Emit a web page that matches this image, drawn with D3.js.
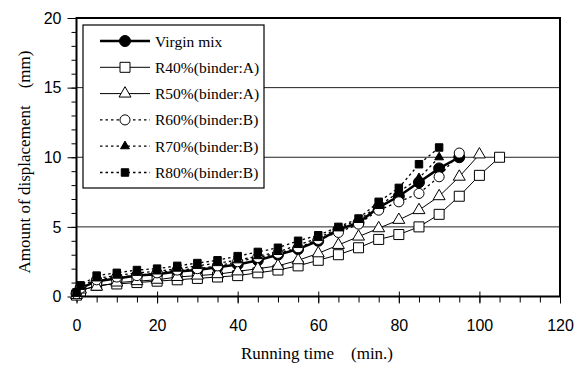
<!DOCTYPE html>
<html>
<head>
<meta charset="utf-8">
<script src="https://cdn.jsdelivr.net/npm/d3@7"></script>
<style>
  body { margin: 0; background: #fff; }
  svg { display: block; }
</style>
</head>
<body>
<svg width="581" height="365"></svg>
<script>
var svg = d3.select('svg');

// running time (min.)
var timeVirgin = [0, 1, 5, 10, 15, 20, 25, 30, 35, 40, 45, 50, 55, 60, 65, 70, 75, 80, 85, 90, 95];
var timeR40 = [0, 1, 5, 10, 15, 20, 25, 30, 35, 40, 45, 50, 55, 60, 65, 70, 75, 80, 85, 90, 95, 100, 105];
var timeR50 = [0, 1, 5, 10, 15, 20, 25, 30, 35, 40, 45, 50, 55, 60, 65, 70, 75, 80, 85, 90, 95, 100];
var timeR60 = [0, 1, 5, 10, 15, 20, 25, 30, 35, 40, 45, 50, 55, 60, 65, 70, 75, 80, 85, 90, 95];
var timeR70 = [0, 1, 5, 10, 15, 20, 25, 30, 35, 40, 45, 50, 55, 60, 65, 70, 75, 80, 85, 90];
var timeR80 = [0, 1, 5, 10, 15, 20, 25, 30, 35, 40, 45, 50, 55, 60, 65, 70, 75, 80, 85, 90];

// amount of displacement (mm)
var virginMix = [0.2, 0.6, 1.1, 1.3, 1.5, 1.6, 1.8, 1.9, 2.1, 2.3, 2.6, 3.0, 3.4, 4.0, 4.8, 5.3, 6.4, 7.2, 8.2, 9.2, 10.0];
var r40 = [0.1, 0.4, 0.8, 0.9, 1.0, 1.1, 1.2, 1.3, 1.4, 1.5, 1.7, 1.9, 2.2, 2.6, 3.0, 3.5, 4.1, 4.45, 5.0, 5.9, 7.2, 8.7, 10.0];
var r50 = [0.1, 0.5, 0.7, 1.0, 1.1, 1.2, 1.4, 1.5, 1.6, 1.8, 2.0, 2.2, 2.6, 3.1, 3.7, 4.3, 4.9, 5.5, 6.2, 7.2, 8.6, 10.2];
var r60 = [0.2, 0.6, 1.2, 1.4, 1.5, 1.7, 1.9, 2.0, 2.2, 2.5, 2.8, 3.1, 3.5, 4.1, 4.6, 5.2, 6.2, 6.8, 7.4, 8.6, 10.3];
var r70 = [0.2, 0.7, 1.3, 1.5, 1.7, 1.8, 2.0, 2.2, 2.4, 2.6, 2.9, 3.2, 3.7, 4.2, 4.9, 5.5, 6.5, 7.5, 8.5, 10.0];
var r80 = [0.3, 0.8, 1.5, 1.7, 1.9, 2.0, 2.2, 2.4, 2.6, 2.9, 3.2, 3.5, 4.0, 4.4, 5.0, 5.6, 6.8, 7.8, 9.5, 10.7];

var seriesNames = ['Virgin mix', 'R40%(binder:A)', 'R50%(binder:A)', 'R60%(binder:B)', 'R70%(binder:B)', 'R80%(binder:B)'];

var xTicks = [0, 20, 40, 60, 80, 100, 120];
var yTicks = [0, 5, 10, 15, 20];

var serif = "'Liberation Serif', 'Times New Roman', serif";
var sans = "'Liberation Sans', Arial, sans-serif";

var scaleX = d3.scaleLinear().domain([0, 120]).range([76.5, 560]);
var scaleY = d3.scaleLinear().domain([0, 20]).range([296.5, 18]);

// series styles: marker, size, fill, line width, dash
var styles = [
    {sym: d3.symbolCircle, size: 95, fill: '#000', width: 2.5, dash: null},
    {sym: d3.symbolSquare, size: 100, fill: '#fff', width: 1, dash: null},
    {sym: d3.symbolTriangle, size: 62, fill: '#fff', width: 1, dash: null},
    {sym: d3.symbolCircle, size: 80, fill: '#fff', width: 1.3, dash: '2.5,3'},
    {sym: d3.symbolTriangle, size: 34, fill: '#000', width: 1.3, dash: '2.5,3'},
    {sym: d3.symbolSquare, size: 56, fill: '#000', width: 1.3, dash: '2.5,3'}
];

var series = [
    {x: timeVirgin, y: virginMix},
    {x: timeR40, y: r40},
    {x: timeR50, y: r50},
    {x: timeR60, y: r60},
    {x: timeR70, y: r70},
    {x: timeR80, y: r80}
];

// gridlines
svg.append('g')
    .selectAll('line')
    .data([5, 10, 15])
    .enter()
    .append('line')
    .attr('x1', scaleX(0))
    .attr('x2', scaleX(120))
    .attr('y1', function(d){ return scaleY(d); })
    .attr('y2', function(d){ return scaleY(d); })
    .attr('stroke', '#222')
    .attr('stroke-width', 1);

// minor ticks
svg.append('g')
    .attr('transform', 'translate(0,' + scaleY(0) + ')')
    .call(d3.axisBottom(scaleX).tickValues(d3.range(0, 121, 5)).tickSize(6).tickFormat(''))
    .call(function(g){ g.select('.domain').remove(); });

svg.append('g')
    .attr('transform', 'translate(' + scaleX(0) + ',0)')
    .call(d3.axisLeft(scaleY).tickValues(d3.range(0, 21, 1)).tickSize(5).tickFormat(''))
    .call(function(g){ g.select('.domain').remove(); });

// major ticks with labels
var xAxis = svg.append('g')
    .attr('transform', 'translate(0,' + scaleY(0) + ')')
    .call(d3.axisBottom(scaleX).tickValues(xTicks).tickSize(7).tickPadding(16));
xAxis.select('.domain').remove();

svg.append('g')
    .attr('transform', 'translate(0,' + scaleY(0) + ')')
    .call(d3.axisTop(scaleX).tickValues(xTicks).tickSize(5).tickFormat(''))
    .call(function(g){ g.select('.domain').remove(); });

var yAxis = svg.append('g')
    .attr('transform', 'translate(' + scaleX(0) + ',0)')
    .call(d3.axisLeft(scaleY).tickValues(yTicks).tickSize(9).tickPadding(6));
yAxis.select('.domain').remove();

svg.selectAll('.tick text')
    .attr('font-family', sans)
    .attr('font-size', '16px')
    .attr('fill', '#000');
svg.selectAll('.tick line').attr('stroke', '#000');

// plot frame
svg.append('rect')
    .attr('x', scaleX(0))
    .attr('y', scaleY(20))
    .attr('width', scaleX(120) - scaleX(0))
    .attr('height', scaleY(0) - scaleY(20))
    .attr('fill', 'none')
    .attr('stroke', '#000')
    .attr('stroke-width', 2);

// series
var line = d3.line()
    .x(function(d){ return scaleX(d[0]); })
    .y(function(d){ return scaleY(d[1]); });

series.forEach(function(s, i){
    var st = styles[i];
    var pts = s.x.map(function(t, j){ return [t, s.y[j]]; });
    var g = svg.append('g');

    g.append('path')
        .datum(pts)
        .attr('d', line)
        .attr('fill', 'none')
        .attr('stroke', '#000')
        .attr('stroke-width', st.width)
        .attr('stroke-dasharray', st.dash);

    g.selectAll('path.pt')
        .data(pts)
        .enter()
        .append('path')
        .attr('class', 'pt')
        .attr('d', d3.symbol().type(st.sym).size(st.size))
        .attr('transform', function(d){ return 'translate(' + scaleX(d[0]) + ',' + scaleY(d[1]) + ')'; })
        .attr('fill', st.fill)
        .attr('stroke', '#000')
        .attr('stroke-width', 1);
});

// legend
var legend = svg.append('g');

legend.append('rect')
    .attr('x', 83)
    .attr('y', 25)
    .attr('width', 181)
    .attr('height', 163)
    .attr('fill', '#fff')
    .attr('stroke', '#000')
    .attr('stroke-width', 1.2);

seriesNames.forEach(function(name, i){
    var st = styles[i];
    var ly = 41 + i * 26.3;

    legend.append('line')
        .attr('x1', 100)
        .attr('x2', 150)
        .attr('y1', ly)
        .attr('y2', ly)
        .attr('stroke', '#000')
        .attr('stroke-width', st.width)
        .attr('stroke-dasharray', st.dash);

    legend.append('path')
        .attr('d', d3.symbol().type(st.sym).size(st.size))
        .attr('transform', 'translate(125,' + ly + ')')
        .attr('fill', st.fill)
        .attr('stroke', '#000')
        .attr('stroke-width', 1);

    legend.append('text')
        .text(name)
        .attr('x', 155)
        .attr('y', ly + 5.5)
        .attr('font-family', serif)
        .attr('font-size', '15.5px');
});

// axis titles
svg.append('text')
    .text('Running time\u3000(min.)')
    .attr('x', 317)
    .attr('y', 359)
    .attr('text-anchor', 'middle')
    .attr('font-family', serif)
    .attr('font-size', '17px');

svg.append('text')
    .text('Amount of displacement\u3000(mm)')
    .attr('transform', 'translate(30,162)rotate(270)')
    .attr('text-anchor', 'middle')
    .attr('font-family', serif)
    .attr('font-size', '17px');
</script>
</body>
</html>
